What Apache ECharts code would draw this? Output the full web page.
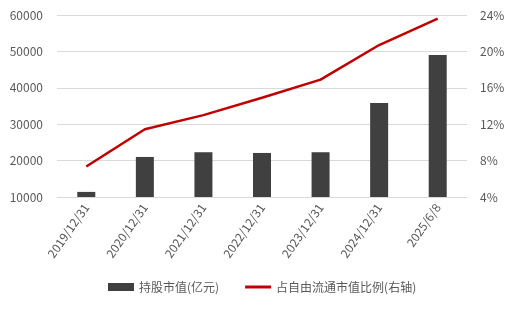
<!DOCTYPE html>
<html><head><meta charset="utf-8">
<script src="https://cdn.jsdelivr.net/npm/echarts@6/dist/echarts.min.js"></script>
<style>html,body{margin:0;padding:0;background:#fff}#c{width:514px;height:311px}</style>
</head><body><div id="c"></div>
<script>
const categories = ['2019/12/31','2020/12/31','2021/12/31','2022/12/31','2023/12/31','2024/12/31','2025/6/8'];
const holdingValue = [11400, 21000, 22300, 22100, 22300, 35800, 49000];
const freeFloatRatio = [7.35, 11.45, 13.0, 14.9, 16.9, 20.7, 23.6];
const seriesNames = ['持股市值(亿元)', '占自由流通市值比例(右轴)'];

const chart = echarts.init(document.getElementById('c'));
const font = '"Noto Sans CJK SC", "Noto Sans", sans-serif';
chart.setOption({
  animation: false,
  textStyle: {fontFamily: font},
  grid: {left: 57, right: 47, top: 15, bottom: 114},
  legend: {
    bottom: 13, left: 103, itemGap: 26, itemWidth: 26, itemHeight: 8,
    textStyle: {color: '#595959', fontSize: 12, fontFamily: font},
    data: [{name: seriesNames[0], icon: 'rect'},
           {name: seriesNames[1], icon: 'path://M0,0 L26,0 L26,3 L0,3 Z'}]
  },
  xAxis: {
    type: 'category', data: categories,
    axisLine: {lineStyle: {color: '#d9d9d9'}},
    axisTick: {show: false},
    axisLabel: {rotate: 55, color: '#595959', fontSize: 12, margin: 8, interval: 0}
  },
  yAxis: [
    {type: 'value', min: 10000, max: 60000, interval: 10000,
     axisLine: {show: false}, axisTick: {show: false},
     axisLabel: {color: '#595959', fontSize: 12, margin: 14, formatter: v => String(v)},
     splitLine: {lineStyle: {color: '#d9d9d9'}}},
    {type: 'value', min: 4, max: 24, interval: 4,
     axisLine: {show: false}, axisTick: {show: false},
     axisLabel: {color: '#595959', fontSize: 12, margin: 13, formatter: '{value}%'},
     splitLine: {show: false}}
  ],
  series: [
    {name: seriesNames[0], type: 'bar', data: holdingValue, barWidth: 18,
     itemStyle: {color: '#404040'}},
    {name: seriesNames[1], type: 'line', yAxisIndex: 1, data: freeFloatRatio,
     symbol: 'none', lineStyle: {color: '#C00000', width: 2.5}, itemStyle: {color: '#C00000'}}
  ]
});
</script></body></html>
